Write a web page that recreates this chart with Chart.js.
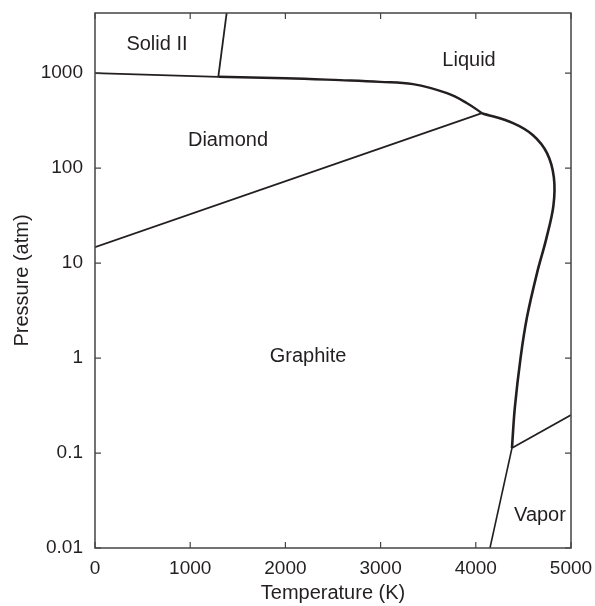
<!DOCTYPE html>
<html>
<head>
<meta charset="utf-8">
<script src="https://cdn.jsdelivr.net/npm/chart.js@4"></script>
<style>
  html, body { margin: 0; padding: 0; background: #fff; }
  #wrap { width: 595px; height: 606px; }
</style>
</head>
<body>
<div id="wrap"><canvas id="chart" width="595" height="606"></canvas></div>
<script>
// phase boundaries, temperature (K) and pressure (atm)
const solid2DiamondT = [0, 1295];
const solid2DiamondP = [1000, 915];

const solid2LiquidT = [1295, 1383];
const solid2LiquidP = [915, 4300];

const diamondLiquidT = [1295, 2000, 2574, 2994, 3340, 3697, 3908, 4065];
const diamondLiquidP = [915, 885, 844, 810, 766, 615, 483, 379];

const graphiteDiamondT = [0, 4065];
const graphiteDiamondP = [14.7, 379];

const graphiteLiquidT = [4065, 4391, 4601, 4748, 4820, 4815, 4740, 4643, 4538, 4470, 4410, 4380];
const graphiteLiquidP = [379, 298, 222, 144, 80, 40, 18, 7.85, 2.70, 1.0, 0.3, 0.113];

const liquidVaporT = [4380, 5000];
const liquidVaporP = [0.113, 0.251];

const graphiteVaporT = [4380, 4149];
const graphiteVaporP = [0.113, 0.01];

// region labels
const regionNames = ["Solid II", "Liquid", "Diamond", "Graphite", "Vapor"];
const regionT = [651, 3929, 1397, 2238, 4674];
const regionP = [2020, 1371, 197, 1.05, 0.0222];

const xTicks = [0, 1000, 2000, 3000, 4000, 5000];
const yTicks = [0.01, 0.1, 1, 10, 100, 1000];

const ink = "#231f20";
const font = "Liberation Sans, Arial, Helvetica, sans-serif";

function toPoints(ts, ps) {
  return ts.map((t, i) => ({ x: t, y: ps[i] }));
}

function line(ts, ps, width, tension) {
  return {
    data: toPoints(ts, ps),
    showLine: true,
    borderColor: ink,
    borderWidth: width,
    pointRadius: 0,
    tension: tension,
    fill: false,
  };
}

const frameAndLabels = {
  id: "frameAndLabels",
  afterDatasetsDraw(chart) {
    const ctx = chart.ctx;
    const a = chart.chartArea;
    const xs = chart.scales.x;
    const ys = chart.scales.y;
    ctx.save();
    ctx.strokeStyle = "#444";
    ctx.lineWidth = 1.5;
    ctx.strokeRect(a.left, a.top, a.right - a.left, a.bottom - a.top);
    ctx.lineWidth = 1.2;
    ctx.beginPath();
    xTicks.forEach((v) => {
      const px = xs.getPixelForValue(v);
      ctx.moveTo(px, a.bottom);
      ctx.lineTo(px, a.bottom - 6);
      ctx.moveTo(px, a.top);
      ctx.lineTo(px, a.top + 6);
    });
    yTicks.forEach((v) => {
      const py = ys.getPixelForValue(v);
      ctx.moveTo(a.left, py);
      ctx.lineTo(a.left + 6, py);
      ctx.moveTo(a.right, py);
      ctx.lineTo(a.right - 6, py);
    });
    ctx.stroke();

    ctx.fillStyle = ink;
    ctx.font = "20px " + font;
    ctx.textAlign = "center";
    ctx.textBaseline = "middle";
    regionNames.forEach((name, i) => {
      ctx.fillText(name, xs.getPixelForValue(regionT[i]), ys.getPixelForValue(regionP[i]));
    });
    ctx.restore();
  },
};

new Chart(document.getElementById("chart"), {
  type: "scatter",
  data: {
    datasets: [
      line(solid2DiamondT, solid2DiamondP, 1.8, 0),
      line(solid2LiquidT, solid2LiquidP, 1.8, 0),
      line(diamondLiquidT, diamondLiquidP, 2.4, 0.4),
      line(graphiteDiamondT, graphiteDiamondP, 1.8, 0),
      line(graphiteLiquidT, graphiteLiquidP, 2.6, 0.35),
      line(liquidVaporT, liquidVaporP, 1.8, 0),
      line(graphiteVaporT, graphiteVaporP, 1.6, 0),
    ],
  },
  plugins: [frameAndLabels],
  options: {
    responsive: false,
    animation: false,
    layout: { padding: { top: 13, right: 24, left: 0, bottom: 0 } },
    plugins: { legend: { display: false }, tooltip: { enabled: false } },
    scales: {
      x: {
        type: "linear",
        min: 0,
        max: 5000,
        afterBuildTicks: (s) => { s.ticks = xTicks.map((v) => ({ value: v })); },
        afterFit: (s) => { s.height = 58; s.paddingLeft = 0; s.paddingRight = 0; },
        grid: { display: false, drawTicks: false },
        border: { display: false },
        ticks: {
          color: ink,
          font: { family: font, size: 19 },
          padding: 9,
          maxRotation: 0,
          callback: (v) => String(v),
        },
        title: {
          display: true,
          text: "Temperature (K)",
          color: ink,
          font: { family: font, size: 20 },
          padding: { top: 2, bottom: 1 },
        },
      },
      y: {
        type: "logarithmic",
        min: 0.01,
        max: 4300,
        afterBuildTicks: (s) => { s.ticks = yTicks.map((v) => ({ value: v })); },
        afterFit: (s) => { s.width = 95; s.paddingTop = 0; s.paddingBottom = 0; },
        grid: { display: false, drawTicks: false },
        border: { display: false },
        ticks: {
          color: ink,
          font: { family: font, size: 19 },
          padding: 12,
          callback: (v) => String(v),
        },
        title: {
          display: true,
          text: "Pressure (atm)",
          color: ink,
          font: { family: font, size: 20 },
          padding: { top: 10, bottom: 2 },
        },
      },
    },
  },
});
</script>
</body>
</html>
